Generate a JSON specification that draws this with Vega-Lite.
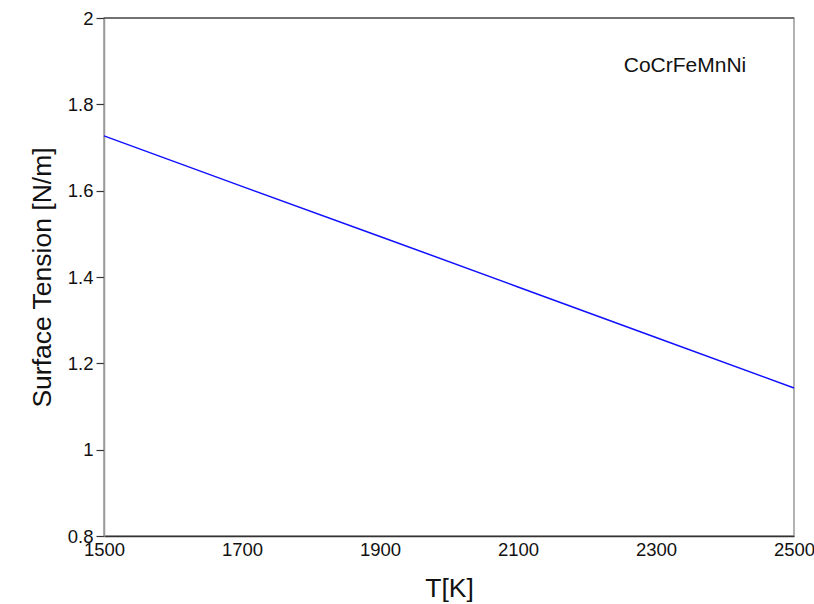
{
  "$schema": "https://vega.github.io/schema/vega-lite/v6.json",
  "width": 690,
  "height": 518,
  "autosize": {"type": "none"},
  "padding": {"left": 104, "top": 18, "right": 20, "bottom": 68},
  "background": "white",
  "config": {
    "font": "Liberation Sans",
    "view": {"stroke": "#999999", "strokeWidth": 1.5}
  },
  "datasets": {
    "curve": [
      {"T": 1500, "sigma": 1.727},
      {"T": 1700, "sigma": 1.610},
      {"T": 1900, "sigma": 1.494},
      {"T": 2100, "sigma": 1.377},
      {"T": 2300, "sigma": 1.260},
      {"T": 2500, "sigma": 1.143}
    ],
    "label": [{"T": 2342, "sigma": 1.889, "text": "CoCrFeMnNi"}]
  },
  "layer": [
    {
      "data": {"name": "curve"},
      "mark": {"type": "line", "color": "#1010ff", "strokeWidth": 1.5},
      "encoding": {
        "x": {
          "field": "T", "type": "quantitative",
          "scale": {"domain": [1500, 2500], "nice": false, "zero": false},
          "axis": {
            "title": "T[K]", "titleFontSize": 26.5, "titleFontWeight": "normal", "titleColor": "#111",
            "titleY": 52, "titleBaseline": "middle",
            "values": [1500, 1700, 1900, 2100, 2300, 2500], "format": "d",
            "ticks": false, "grid": false, "labelFontSize": 18.5, "labelColor": "#111",
            "labelPadding": 4, "labelFlush": false, "labelOverlap": false,
            "domainColor": "#333333", "domainWidth": 1.5
          }
        },
        "y": {
          "field": "sigma", "type": "quantitative",
          "scale": {"domain": [0.8, 2], "nice": false, "zero": false},
          "axis": {
            "title": "Surface Tension [N/m]", "titleFontSize": 26.5, "titleFontWeight": "normal", "titleColor": "#111",
            "titleX": -62, "titleY": 259, "titleBaseline": "middle", "titleAngle": -90, "titleAlign": "center",
            "values": [0.8, 1, 1.2, 1.4, 1.6, 1.8, 2],
            "labelExpr": "datum.value == 1 ? '1' : datum.value == 2 ? '2' : format(datum.value, '.1f')",
            "tickSize": 8, "tickColor": "#333333", "tickWidth": 1.2, "grid": false,
            "labelFontSize": 18.5, "labelColor": "#111", "labelPadding": 3, "labelFlush": false, "labelOverlap": false,
            "domainColor": "#999999", "domainWidth": 1.5
          }
        }
      }
    },
    {
      "data": {"values": [{"y": 2}]},
      "mark": {"type": "rule", "color": "#333333", "strokeWidth": 1.2},
      "encoding": {"y": {"field": "y", "type": "quantitative"}}
    },
    {
      "data": {"name": "label"},
      "mark": {"type": "text", "fontSize": 21, "color": "#111", "align": "center", "baseline": "middle"},
      "encoding": {
        "x": {"field": "T", "type": "quantitative"},
        "y": {"field": "sigma", "type": "quantitative"},
        "text": {"field": "text"}
      }
    }
  ]
}
